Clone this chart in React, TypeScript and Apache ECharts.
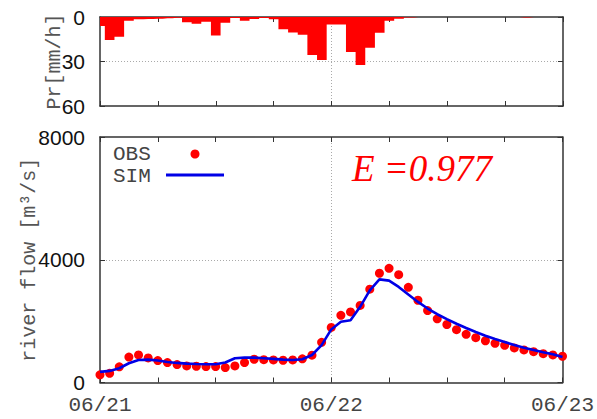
import React, { useEffect, useRef } from 'react';
import * as echarts from 'echarts';

// hours since 06/21 00:00
const hours = [0, 1, 2, 3, 4, 5, 6, 7, 8, 9, 10, 11, 12, 13, 14, 15, 16, 17, 18, 19, 20, 21, 22, 23, 24,
  25, 26, 27, 28, 29, 30, 31, 32, 33, 34, 35, 36, 37, 38, 39, 40, 41, 42, 43, 44, 45, 46, 47, 48];

const tickLabels: Record<number, string> = { 0: '06/21', 24: '06/22', 48: '06/23' };

// precipitation [mm/h]
const precip = [6, 15.5, 13.3, 2.5, 1.6, 1.3, 1.1, 0.9, 0.5, 3.6,
  4.5, 3.2, 12.4, 3.9, 0.7, 2.5, 1.4, 0.7, 1.5, 8.2,
  10.5, 12, 25.7, 29, 5, 5, 23.6, 32.3, 20.7, 10.7,
  2.5, 1.2, 0.3, 0, 0, 0, 0, 0, 0, 0,
  0, 0, 0, 0, 0.3, 0, 0, 0, 0];

// observed river flow [m3/s]
const obs = [250, 300, 510, 830, 900, 800, 715, 650, 585, 540,
  530, 520, 520, 487, 540, 650, 757, 745, 735, 725,
  735, 770, 890, 1310, 1795, 2190, 2300, 2510, 3040, 3560,
  3720, 3515, 3100, 2680, 2345, 2075, 1890, 1720, 1570, 1460,
  1360, 1275, 1210, 1125, 1060, 1005, 940, 897, 855];

// simulated river flow [m3/s]
const sim = [345, 378, 465, 627, 735, 745, 715, 670, 638, 616,
  605, 595, 595, 650, 790, 810, 810, 790, 770, 745,
  735, 757, 897, 1220, 1730, 1980, 2030, 2465, 3005, 3360,
  3320, 3115, 2865, 2625, 2410, 2225, 2065, 1915, 1775, 1645,
  1525, 1415, 1320, 1220, 1135, 1060, 985, 920, 830];

const efficiency = 'E =0.977';

const axisColor = '#333';
const gridDot = { show: true, showMinLine: false, showMaxLine: false, lineStyle: { color: '#aaa', type: [1, 2] as any, width: 1 } };

function xAxisFor(gridIndex: number, top: boolean, labels: boolean) {
  return {
    type: 'value',
    gridIndex,
    position: top ? 'top' : 'bottom',
    min: 0,
    max: 48,
    interval: 24,
    axisLine: { show: true, onZero: false, lineStyle: { color: axisColor, width: 1.5 } },
    axisTick: { show: true, inside: true, length: 5, lineStyle: { color: axisColor, width: 1 } },
    minorTick: { show: true, splitNumber: 4, length: 5, lineStyle: { color: axisColor, width: 1 } },
    splitLine: top ? { show: false } : gridDot,
    axisLabel: labels
      ? {
          show: true,
          margin: 12,
          fontFamily: 'Liberation Mono',
          fontSize: 21,
          color: '#444',
          formatter: (v: number) => tickLabels[v] ?? '',
        }
      : { show: false },
  };
}

function yAxisFor(gridIndex: number, right: boolean, min: number, max: number, interval: number, inverse: boolean, name?: string, nameGap?: number) {
  return {
    type: 'value',
    gridIndex,
    position: right ? 'right' : 'left',
    min,
    max,
    interval,
    inverse,
    axisLine: { show: true, onZero: false, lineStyle: { color: axisColor, width: 1.5 } },
    axisTick: { show: true, inside: true, length: 5, lineStyle: { color: axisColor, width: 1 } },
    splitLine: right ? { show: false } : gridDot,
    axisLabel: right
      ? { show: false }
      : {
          show: true,
          margin: 15,
          fontFamily: 'Liberation Sans',
          fontSize: 21,
          color: '#111',
          formatter: (v: number) => String(v),
        },
    name: name,
    nameLocation: 'middle',
    nameRotate: 90,
    nameGap: nameGap,
    nameMoveOverlap: false,
    nameTextStyle: { fontFamily: 'Liberation Mono', fontSize: 20, color: '#555' },
  };
}

export default function App() {
  const ref = useRef<HTMLDivElement>(null);
  useEffect(() => {
    if (!ref.current) return;
    const chart = echarts.init(ref.current, undefined, { renderer: 'svg' });
    chart.setOption({
      animation: false,
      backgroundColor: '#fff',
      grid: [
        { left: 100, right: 34, top: 17, height: 89 },
        { left: 100, right: 34, top: 137, height: 245.5 },
      ],
      xAxis: [xAxisFor(0, false, false), xAxisFor(0, true, false), xAxisFor(1, false, true), xAxisFor(1, true, false)],
      yAxis: [
        yAxisFor(0, false, 0, 60, 30, true, 'Pr[mm/h]', 36),
        yAxisFor(0, true, 0, 60, 30, true),
        yAxisFor(1, false, 0, 8000, 4000, false, 'river flow [m³/s]', 61),
        yAxisFor(1, true, 0, 8000, 4000, false),
      ],
      series: [
        {
          type: 'line',
          xAxisIndex: 0,
          yAxisIndex: 0,
          step: 'middle',
          symbol: 'none',
          data: hours.map((h, i) => [h, precip[i]]),
          lineStyle: { width: 0, color: '#ff0000' },
          areaStyle: { color: '#ff0000', opacity: 1 },
        },
        {
          type: 'scatter',
          xAxisIndex: 2,
          yAxisIndex: 2,
          symbolSize: 9,
          data: hours.map((h, i) => [h, obs[i]]),
          itemStyle: { color: '#ff0000', opacity: 1 },
          z: 2,
        },
        {
          type: 'line',
          xAxisIndex: 2,
          yAxisIndex: 2,
          symbol: 'none',
          data: hours.map((h, i) => [h, sim[i]]),
          lineStyle: { color: '#0000e6', width: 2.6 },
          z: 3,
        },
      ],
      graphic: [
        { type: 'text', left: 113, top: 144, style: { text: 'OBS', fontFamily: 'Liberation Mono', fontSize: 21, fill: '#444' } },
        { type: 'circle', shape: { cx: 195, cy: 154, r: 4.5 }, style: { fill: '#ff0000' } },
        { type: 'text', left: 113, top: 166, style: { text: 'SIM', fontFamily: 'Liberation Mono', fontSize: 21, fill: '#444' } },
        { type: 'line', shape: { x1: 166, y1: 175, x2: 224, y2: 175 }, style: { stroke: '#0000e6', lineWidth: 3 } },
        {
          type: 'text',
          left: 352,
          top: 150,
          style: { text: efficiency, fontFamily: 'Liberation Serif', fontStyle: 'italic', fontSize: 37, fill: '#ff0000' },
        },
      ],
    });
    return () => chart.dispose();
  }, []);
  return <div ref={ref} style={{ position: 'fixed', left: 0, top: 0, width: 597, height: 419 }} />;
}
